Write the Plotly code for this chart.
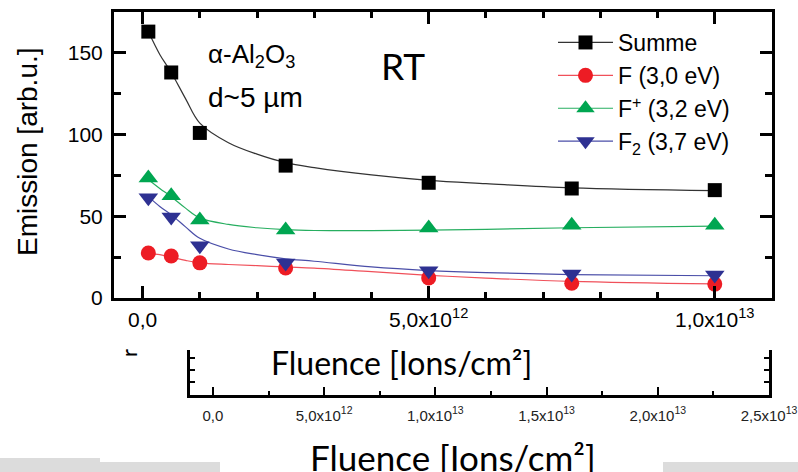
import plotly.graph_objects as go

# ---- data ----
fluence = [0.1e12, 0.5e12, 1.0e12, 2.5e12, 5.0e12, 7.5e12, 10.0e12]
summe = [163, 138, 101, 81, 70.5, 67, 66]
f_30 = [27.5, 25.7, 21.5, 18.4, 12.3, 9.0, 8.5]
fplus_32 = [73.4, 62.5, 47.8, 41.6, 42.8, 44.5, 44.5]
f2_37 = [61.3, 49.6, 32.0, 21.4, 16.6, 14.7, 14.1]

# fitted curves as drawn in the picture
fit_x = [0.1e12, 0.3e12, 0.5e12, 0.75e12, 1.0e12, 1.5e12, 2.0e12, 2.5e12,
         3.0e12, 4.0e12, 5.0e12, 6.0e12, 7.5e12, 10.0e12]
fit_summe = [163, 149, 138, 122, 107, 95, 88, 82.8, 79.8, 75.3, 72, 70, 67.4, 65.7]
fit_f = [27.5, 26.5, 25, 23, 21.5, 20.5, 19.8, 19, 18.3, 16.1, 13.9, 12.2, 10.2, 8.6]
fit_fplus = [72.5, 67, 62, 55, 49, 45, 43, 41.8, 41.3, 41.2, 41.5, 42, 43, 44]
fit_f2 = [62, 56, 51, 43.5, 36.5, 30, 26.5, 24, 22.5, 19, 16.8, 15.5, 14.3, 13.6]

names = ["Summe", "F (3,0 eV)", "F<sup>+</sup> (3,2 eV)", "F<sub>2</sub> (3,7 eV)"]
colors = ["#000000", "#ed1c24", "#00a651", "#2e3192"]
line_colors = ["#333333", "#f0505a", "#27ae60", "#4a4ea8"]
symbols = ["square", "circle", "triangle-up", "triangle-down"]
msizes = [14, 15, 17, 17]

main_xticks = [0, 5e12, 1e13]
main_xtext = ["0,0", "5,0x10<sup>12</sup>", "1,0x10<sup>13</sup>"]
yticks = [0, 50, 100, 150]
sec_xticks = [0, 5e12, 1e13, 1.5e13, 2e13, 2.5e13]
sec_xtext = ["0,0", "5,0x10<sup>12</sup>", "1,0x10<sup>13</sup>", "1,5x10<sup>13</sup>",
             "2,0x10<sup>13</sup>", "2,5x10<sup>13</sup>"]

W, H = 798, 472
ARIAL = "Liberation Sans, Arial, sans-serif"
CAL = "Lato, Carlito, Calibri, sans-serif"

fig = go.Figure()
series = [summe, f_30, fplus_32, f2_37]
fits = [fit_summe, fit_f, fit_fplus, fit_f2]
for i in range(4):
    fig.add_trace(go.Scatter(x=fit_x, y=fits[i], mode="lines",
                             line=dict(color=line_colors[i], width=1.2, shape="spline", smoothing=1.0),
                             showlegend=False, hoverinfo="skip"))
for i in range(4):
    fig.add_trace(go.Scatter(x=fluence, y=series[i], mode="markers",
                             marker=dict(symbol=symbols[i], size=msizes[i], color=colors[i], line=dict(width=0)),
                             showlegend=False))
# legend entries
for i in range(4):
    fig.add_trace(go.Scatter(x=[None], y=[None], mode="lines+markers", name=names[i],
                             line=dict(color=line_colors[i], width=1.2),
                             marker=dict(symbol=symbols[i], size=msizes[i], color=colors[i], line=dict(width=0))))

# secondary (partial) axis, no data
fig.add_trace(go.Scatter(x=[None], y=[None], xaxis="x2", yaxis="y2", showlegend=False))


def px(x):
    return x / W


def py(y):
    return 1 - y / H


fig.update_layout(
    width=W, height=H,
    margin=dict(l=0, r=0, t=0, b=0, pad=0, autoexpand=False),
    paper_bgcolor="white", plot_bgcolor="rgba(0,0,0,0)",
    font=dict(family=ARIAL, color="black"),
    xaxis=dict(domain=[px(114), px(772)], anchor="y", range=[-0.5e12, 11.0e12],
               tickmode="array", tickvals=main_xticks, ticktext=main_xtext,
               ticks="inside", ticklen=12, tickwidth=2.5, tickcolor="black",
               minor=dict(dtick=1e12, tick0=0, ticks="inside", ticklen=6, tickwidth=2.5, tickcolor="black"),
               showline=True, linewidth=3, linecolor="black", mirror="allticks",
               showgrid=False, zeroline=False, automargin=False,
               tickfont=dict(size=21, family=ARIAL), ticklabelstandoff=1),
    yaxis=dict(domain=[py(298), py(12)], anchor="x", range=[0, 175],
               tickmode="array", tickvals=yticks,
               ticks="inside", ticklen=12, tickwidth=2.5, tickcolor="black",
               minor=dict(dtick=25, tick0=0, ticks="inside", ticklen=7, tickwidth=2.5, tickcolor="black"),
               showline=True, linewidth=3, linecolor="black", mirror="allticks",
               showgrid=False, zeroline=False, automargin=False,
               tickfont=dict(size=21, family=ARIAL), ticklabelstandoff=4),
    xaxis2=dict(domain=[px(190), px(769)], anchor="y2", range=[-1.03e12, 25.0e12],
                tickmode="array", tickvals=sec_xticks, ticktext=sec_xtext,
                ticks="inside", ticklen=8, tickwidth=2, tickcolor="black",
                minor=dict(dtick=2.5e12, tick0=0, ticks="inside", ticklen=4, tickwidth=2, tickcolor="black"),
                showline=True, linewidth=2.5, linecolor="black",
                showgrid=False, zeroline=False, automargin=False,
                tickfont=dict(size=15, family=ARIAL, color="#222222"), ticklabelstandoff=5),
    yaxis2=dict(domain=[py(395), py(350)], anchor="x2", range=[0, 45],
                tickmode="array", tickvals=[13, 25, 37], showticklabels=False,
                ticks="inside", ticklen=5, tickwidth=2, tickcolor="black",
                showline=True, linewidth=2.5, linecolor="black", mirror="ticks",
                showgrid=False, zeroline=False, automargin=False),
    legend=dict(x=px(553), y=py(21), xanchor="left", yanchor="top",
                bgcolor="rgba(0,0,0,0)", font=dict(size=23, family=ARIAL),
                tracegroupgap=0, itemwidth=55),
    showlegend=True,
)

annotations = [
    dict(text="Emission [arb.u.]", x=px(27), y=py(152), textangle=-90, xanchor="center",
         font=dict(size=28, family=ARIAL)),
    dict(text="α-Al<sub>2</sub>O<sub>3</sub>", x=px(206), y=py(55), xanchor="left", font=dict(size=26, family=ARIAL)),
    dict(text="d~5 µm", x=px(206), y=py(97), xanchor="left", font=dict(size=28, family=ARIAL)),
    dict(text="RT", x=px(403), y=py(66), xanchor="center", font=dict(size=37, family=CAL)),
    dict(text="Fluence [Ions/cm²]", x=px(401), y=py(362), xanchor="center", font=dict(size=32, family=CAL)),
    dict(text="Fluence [Ions/cm²]", x=px(453), y=py(457), xanchor="center", font=dict(size=35, family=CAL)),
    dict(text="r", x=px(128), y=py(353), textangle=-90, xanchor="center", font=dict(size=22, family=CAL)),
]
for a in annotations:
    a.update(xref="paper", yref="paper", showarrow=False, yanchor="middle")
fig.update_layout(annotations=annotations)

grey = "#dcdcdc"
shapes = [
    dict(x0=0, x1=px(100), y0=0, y1=py(458)),
    dict(x0=px(100), x1=px(220), y0=0, y1=py(462)),
    dict(x0=px(663), x1=1, y0=0, y1=py(462)),
]
for s in shapes:
    s.update(type="rect", xref="paper", yref="paper", fillcolor=grey, line=dict(width=0), layer="below")
fig.update_layout(shapes=shapes)

fig.write_html("out.html", config={"displayModeBar": False})
